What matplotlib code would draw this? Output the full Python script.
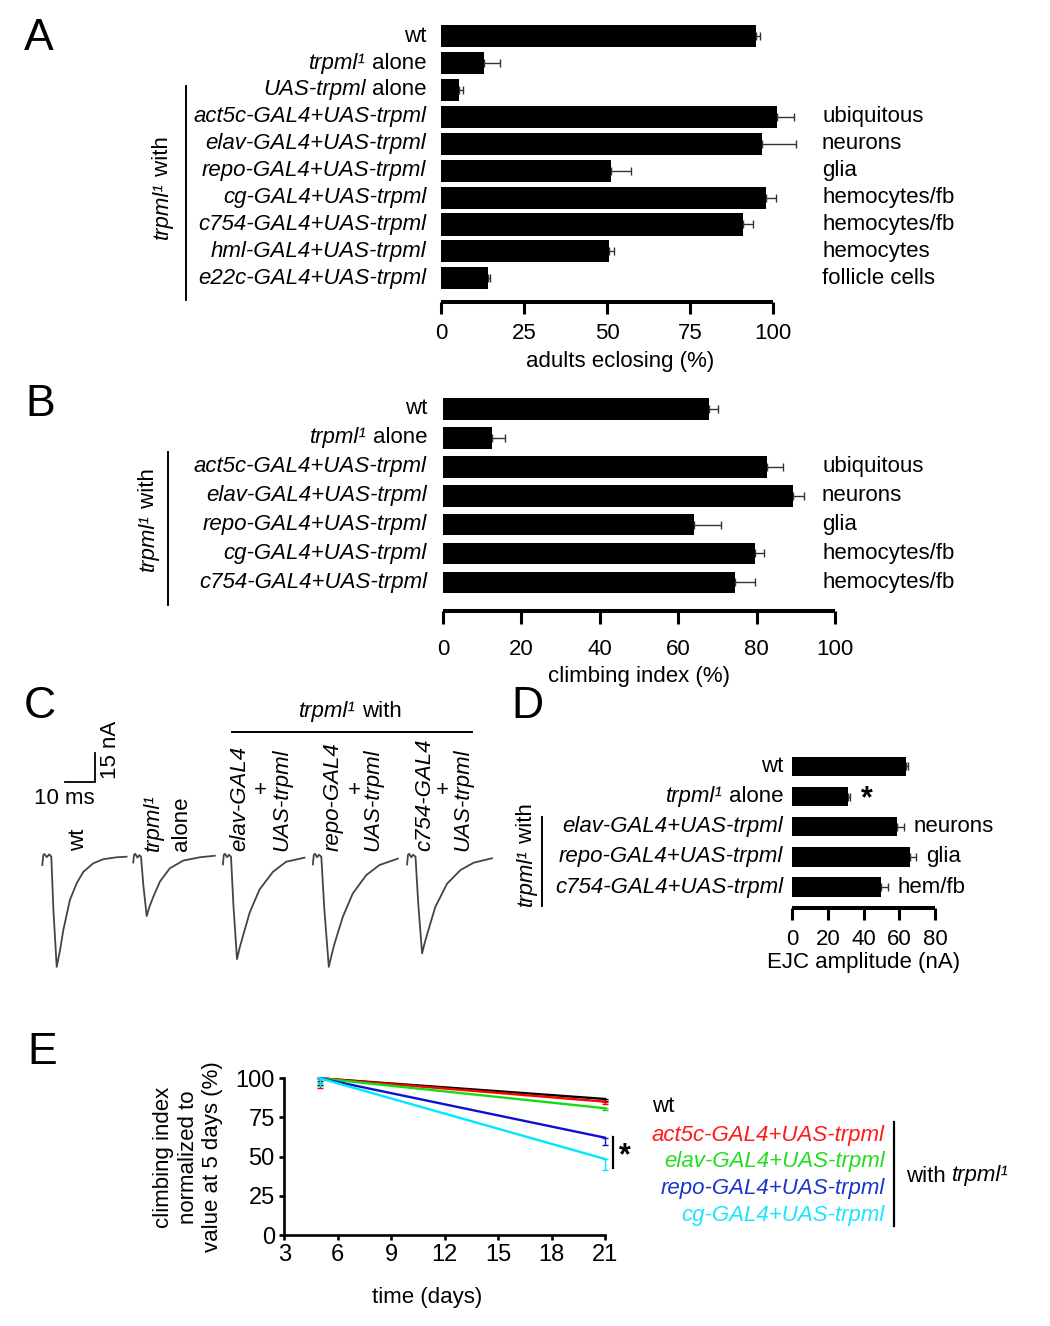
import matplotlib
matplotlib.use('Agg')
import matplotlib.pyplot as plt
from matplotlib.offsetbox import TextArea, HPacker, AnnotationBbox
from matplotlib.lines import Line2D
from matplotlib.text import Annotation
from matplotlib.transforms import blended_transform_factory
import numpy as np

plt.rcParams['font.family'] = ['Liberation Sans', 'DejaVu Sans']
plt.rcParams['font.size'] = 16

# ---------------- data ----------------
A_labels = ['wt', 'trpml¹ alone', 'UAS-trpml alone', 'act5c-GAL4+UAS-trpml',
            'elav-GAL4+UAS-trpml', 'repo-GAL4+UAS-trpml', 'cg-GAL4+UAS-trpml',
            'c754-GAL4+UAS-trpml', 'hml-GAL4+UAS-trpml', 'e22c-GAL4+UAS-trpml']
A_vals = [94.9, 13.0, 5.2, 101.4, 96.8, 51.1, 98.0, 91.1, 50.6, 14.1]
A_errs = [1.2, 4.7, 1.2, 5.0, 10.2, 6.0, 3.0, 3.1, 1.5, 0.5]
A_notes = ['', '', '', 'ubiquitous', 'neurons', 'glia', 'hemocytes/fb',
           'hemocytes/fb', 'hemocytes', 'follicle cells']
A_ticks = [0, 25, 50, 75, 100]

B_labels = ['wt', 'trpml¹ alone', 'act5c-GAL4+UAS-trpml', 'elav-GAL4+UAS-trpml',
            'repo-GAL4+UAS-trpml', 'cg-GAL4+UAS-trpml', 'c754-GAL4+UAS-trpml']
B_vals = [67.8, 12.6, 82.6, 89.3, 64.1, 79.6, 74.4]
B_errs = [2.3, 3.2, 4.1, 2.9, 6.8, 2.2, 5.2]
B_notes = ['', '', 'ubiquitous', 'neurons', 'glia', 'hemocytes/fb', 'hemocytes/fb']
B_ticks = [0, 20, 40, 60, 80, 100]

D_labels = ['wt', 'trpml¹ alone', 'elav-GAL4+UAS-trpml', 'repo-GAL4+UAS-trpml',
            'c754-GAL4+UAS-trpml']
D_vals = [63.6, 31.4, 58.4, 65.9, 49.7]
D_errs = [1.3, 1.0, 4.0, 3.3, 3.7]
D_notes = ['', '*', 'neurons', 'glia', 'hem/fb']
D_ticks = [0, 20, 40, 60, 80]

# EJC traces (time in ms from trace start, current in nA)
wt_t = [0, 0.33, 0.73, 1.47, 2.33, 3.0, 3.7, 4.8, 5.9, 7.0, 9.2, 11.5, 13.7, 17.0, 20.3, 24.8, 28.1]
wt_i = [-4.3, 0.9, 1.4, -0.2, 1.2, 0, -27.5, -57, -48.5, -38, -22.4, -13.6, -7.8, -3.4, -1.3, -0.3, 0]
trpml_t = [0, 0.3, 0.7, 1.4, 2.0, 2.6, 3.4, 4.5, 5.4, 6.7, 8.9, 12.2, 16.7, 22.2, 27.2]
trpml_i = [-3, 1, 1.5, -0.5, 0.8, 0, -15, -30.7, -26, -20.7, -12.9, -6, -2, -0.3, 0.5]
elav_t = [0, 0.3, 0.7, 1.4, 2.0, 2.7, 3.5, 4.7, 5.6, 6.7, 8.9, 12.2, 16.7, 21.1, 27.2]
elav_i = [-4, 1, 1.5, -0.3, 1.0, 0, -25, -53, -47, -41, -29, -17, -7.8, -2.6, -0.5]
repo_t = [0, 0.3, 0.7, 1.4, 2.0, 2.8, 3.8, 5.3, 6.2, 7.2, 10.0, 13.3, 17.8, 22.2, 28.3]
repo_i = [-4, 1, 1.5, -0.3, 1.0, 0, -27, -57, -51, -45, -31, -19, -9.5, -4.3, -1.0]
c754_t = [0, 0.3, 0.7, 1.4, 2.0, 2.8, 3.7, 5.0, 5.8, 6.7, 9.4, 13.3, 17.8, 22.2, 28.3]
c754_i = [-4, 1, 1.5, -0.3, 1.0, 0, -24, -50, -45, -40, -26, -14, -6.9, -3.1, -0.8]
trace_offsets = [0, 30.3, 60.2, 90.2, 121.6]
SCALE_MS, SCALE_NA = 10, 15

E_days = [5, 21]
E_names = ['wt', 'act5c-GAL4+UAS-trpml', 'elav-GAL4+UAS-trpml',
           'repo-GAL4+UAS-trpml', 'cg-GAL4+UAS-trpml']
E_vals = [[100, 86.8], [100, 85.1], [100, 80.9], [100, 62.1], [100, 48.5]]
E_lo = [[4, 1.0], [6, 1.5], [3, 1.0], [2, 4.7], [5, 7.0]]
E_colors = ['black', '#ff0000', '#11dd11', '#1010d0', '#00e8ff']
E_text_colors = ['black', '#ff1a1a', '#22dd22', '#1a35c8', '#1ae5ff']
E_xticks = [3, 6, 9, 12, 15, 18, 21]
E_yticks = [0, 25, 50, 75, 100]

# ---------------- layout helpers ----------------
W, H = 1050, 1326
fig = plt.figure(figsize=(10.5, 13.26), dpi=100)
PT = 0.72  # points per pixel


def fx(px):
    return px / W


def fy(py):
    return 1 - py / H


def add_ax(x0, y0, x1, y1):
    return fig.add_axes([x0 / W, 1 - y1 / H, (x1 - x0) / W, (y1 - y0) / H])


def vline_px(x, y0, y1, lw=1.4):
    fig.add_artist(Line2D([fx(x), fx(x)], [fy(y0), fy(y1)], transform=fig.transFigure,
                          color='black', lw=lw))


def hline_px(x0, x1, y, lw=1.4):
    fig.add_artist(Line2D([fx(x0), fx(x1)], [fy(y), fy(y)], transform=fig.transFigure,
                          color='black', lw=lw))


UPRIGHT = {'wt', 'alone', 'with'}


def rich_box(label, size=16, color='black'):
    parts = [(tok, tok not in UPRIGHT) for tok in label.split(' ')]
    children = [TextArea(t, textprops=dict(fontsize=size, color=color,
                                           fontstyle='italic' if it else 'normal'))
                for t, it in parts]
    return HPacker(children=children, align='baseline', pad=0, sep=size * 0.278)


def rich_fig(label, x, y, align=(1, 0.5), size=16, color='black'):
    ab = AnnotationBbox(rich_box(label, size, color), (fx(x), fy(y)),
                        xycoords='figure fraction', box_alignment=align,
                        frameon=False, pad=0, annotation_clip=False)
    fig.add_artist(ab)


def bar_panel(x0, x1, y_top, y_axis, xmax, ylim_bottom, labels, vals, errs, notes,
              ticks, xlabel, bar_h, gap_px, note_x, tick_len, pad, labelpad,
              note_offset=None):
    ax = add_ax(x0, y_top, x1, y_axis)
    y = np.arange(len(vals))
    ax.barh(y, vals, height=bar_h, color='black', zorder=2, clip_on=False)
    ax.errorbar(vals, y, xerr=[np.zeros(len(errs)), errs], fmt='none', ecolor='#333333',
                elinewidth=1.0, capsize=3, capthick=1.0, zorder=1, clip_on=False)
    ax.set_xlim(0, xmax)
    ax.set_ylim(ylim_bottom, -0.5)
    for s in ['left', 'top', 'right']:
        ax.spines[s].set_visible(False)
    ax.spines['bottom'].set_linewidth(2.9)
    ax.spines['bottom'].set_bounds(ticks[0], ticks[-1])
    ax.spines['bottom'].set_capstyle('butt')
    ax.set_yticks([])
    ax.set_xticks(ticks)
    ax.set_xticklabels([str(t) for t in ticks])
    ax.tick_params(axis='x', length=tick_len, width=2.2, pad=pad, labelsize=16)
    ax.set_xlabel(xlabel, fontsize=16, labelpad=labelpad)
    ax.patch.set_visible(False)
    for i, lab in enumerate(labels):
        ab = AnnotationBbox(rich_box(lab), (0, i), xycoords=('axes fraction', 'data'),
                            xybox=(-gap_px * PT, 0), boxcoords='offset points',
                            box_alignment=(1, 0.5), frameon=False, pad=0,
                            annotation_clip=False)
        ax.add_artist(ab)
    tr = blended_transform_factory(fig.transFigure, ax.transData)
    for i, note in enumerate(notes):
        if not note:
            continue
        if note_offset is None:
            ax.text(fx(note_x), i, note, transform=tr, ha='left', va='center', fontsize=16)
        elif note == '*':
            ax.annotate(note, xy=(vals[i] + errs[i], i), xytext=(note_offset[0] * PT, -3 * PT),
                        textcoords='offset points', ha='left', va='center',
                        fontsize=22, fontweight='bold', annotation_clip=False)
        else:
            ax.annotate(note, xy=(vals[i] + errs[i], i), xytext=(note_offset[1] * PT, 0),
                        textcoords='offset points', ha='left', va='center',
                        fontsize=16, annotation_clip=False)
    return ax


# ---------------- panel A ----------------
pxA = (772.7 - 441.3) / 100.0
axA = bar_panel(441.3, 441.3 + 108 * pxA, 22.75, 301.7, 108, 9.87, A_labels, A_vals, A_errs,
                A_notes, A_ticks, 'adults eclosing (%)', 0.82, 15, 822, 8.4, 7, 5)
vline_px(186, 86, 300)

# ---------------- panel B ----------------
axB = bar_panel(443, 835, 394.5, 611, 100, 6.99, B_labels, B_vals, B_errs, B_notes,
                B_ticks, 'climbing index (%)', 0.75, 16, 822, 9.4, 11, 4)
vline_px(168, 452, 605)

# ---------------- panel D ----------------
axD = bar_panel(792, 935.3, 751.2, 908.3, 80, 4.70, D_labels, D_vals, D_errs, D_notes,
                D_ticks, 'EJC amplitude (nA)', 0.64, 9, 0, 8.6, 6, 2,
                note_offset=(11, 10))
vline_px(542, 817, 906)

# rotated "trpml¹ with" labels
for (x, yc) in [(162, 197), (148, 529), (526, 864)]:
    t1 = fig.text(fx(x), fy(yc + 42), 'trpml¹', rotation=90, ha='center', va='bottom',
                  fontstyle='italic', fontsize=16)
    fig.add_artist(Annotation(' with', xy=(0.5, 1.0), xycoords=t1,
                              rotation=90, ha='center', va='bottom',
                              fontsize=16, annotation_clip=False))

# ---------------- panel C ----------------
axC = add_ax(35, 740, 500, 980)
axC.set_xlim((35 - 42.3) / 3, (500 - 42.3) / 3)
axC.set_ylim((856.7 - 980) / 1.933, (856.7 - 740) / 1.933)
axC.axis('off')
for tt, ii, off in zip([wt_t, trpml_t, elav_t, repo_t, c754_t],
                       [wt_i, trpml_i, elav_i, repo_i, c754_i], trace_offsets):
    axC.plot(np.array(tt) + off, ii, color='#444444', lw=1.3, solid_joinstyle='round')
sb_x, sb_y = 7.57, 38.6
axC.plot([sb_x, sb_x + SCALE_MS, sb_x + SCALE_MS], [sb_y, sb_y, sb_y + SCALE_NA],
         color='black', lw=1.3, solid_joinstyle='miter')
fig.text(fx(64), fy(798), f'{SCALE_MS} ms', ha='center', va='center', fontsize=16)
fig.text(fx(110), fy(750), f'{SCALE_NA} nA', ha='center', va='center', rotation=90,
         fontsize=16)

C_rot = [(79, 'wt', 'normal'), (153, 'trpml¹', 'italic'), (182, 'alone', 'normal'),
         (240, 'elav-GAL4', 'italic'), (281.7, 'UAS-trpml', 'italic'),
         (333, 'repo-GAL4', 'italic'), (373, 'UAS-trpml', 'italic'),
         (425, 'c754-GAL4', 'italic'), (463, 'UAS-trpml', 'italic')]
for x, s, st in C_rot:
    fig.text(fx(x), fy(851), s, rotation=90, ha='center', va='bottom', fontstyle=st,
             fontsize=16)
for x in [260, 354.3, 442.5]:
    fig.text(fx(x), fy(790), '+', ha='center', va='center', fontsize=16)
rich_fig('trpml¹ with', 350, 711.7, align=(0.5, 0.5))
hline_px(231.7, 471.7, 731.7)

# ---------------- panel E ----------------
axE = add_ax(284.3, 1078.3, 605, 1235)
for k in range(len(E_vals) - 1, -1, -1):
    axE.plot(E_days, E_vals[k], color=E_colors[k], lw=1.7, clip_on=False, zorder=3 + k)
    axE.errorbar(E_days, E_vals[k], yerr=[E_lo[k], [0] * len(E_days)], fmt='none',
                 ecolor=E_colors[k], elinewidth=1.0, capsize=2, capthick=1.0,
                 clip_on=False, zorder=3 + k)
axE.set_xlim(3, 21)
axE.set_ylim(0, 100)
axE.set_xticks(E_xticks)
axE.set_yticks(E_yticks)
for s in ['top', 'right']:
    axE.spines[s].set_visible(False)
for s in ['left', 'bottom']:
    axE.spines[s].set_linewidth(1.9)
axE.tick_params(length=3.8, width=1.9, pad=3, labelsize=17)
axE.patch.set_visible(False)
fig.text(fx(188), fy(1157), 'climbing index\nnormalized to\nvalue at 5 days (%)',
         rotation=90, ha='center', va='center', multialignment='center', fontsize=16,
         linespacing=1.2)
fig.text(fx(427), fy(1297), 'time (days)', ha='center', va='center', fontsize=16)
vline_px(613.3, 1137.3, 1168.3, lw=1.6)
fig.text(fx(625), fy(1156), '*', ha='center', va='center', fontsize=22, fontweight='bold')

fig.text(fx(652), fy(1107), E_names[0], ha='left', va='center', fontsize=16,
         color=E_text_colors[0])
for k, yy in zip(range(1, 5), [1135, 1161, 1188.3, 1215]):
    fig.text(fx(885), fy(yy), E_names[k], ha='right', va='center', fontsize=16,
             fontstyle='italic', color=E_text_colors[k])
vline_px(894.3, 1121.7, 1225.7, lw=1.6)
rich_fig('with trpml¹', 906, 1176, align=(0, 0.5))

# ---------------- panel letters ----------------
for s, x, y in [('A', 39, 38), ('B', 40, 405), ('C', 40, 706), ('D', 527, 706),
                ('E', 42, 1053)]:
    fig.text(fx(x), fy(y), s, ha='center', va='center', fontsize=32)

fig.savefig('out.png', dpi=100)
